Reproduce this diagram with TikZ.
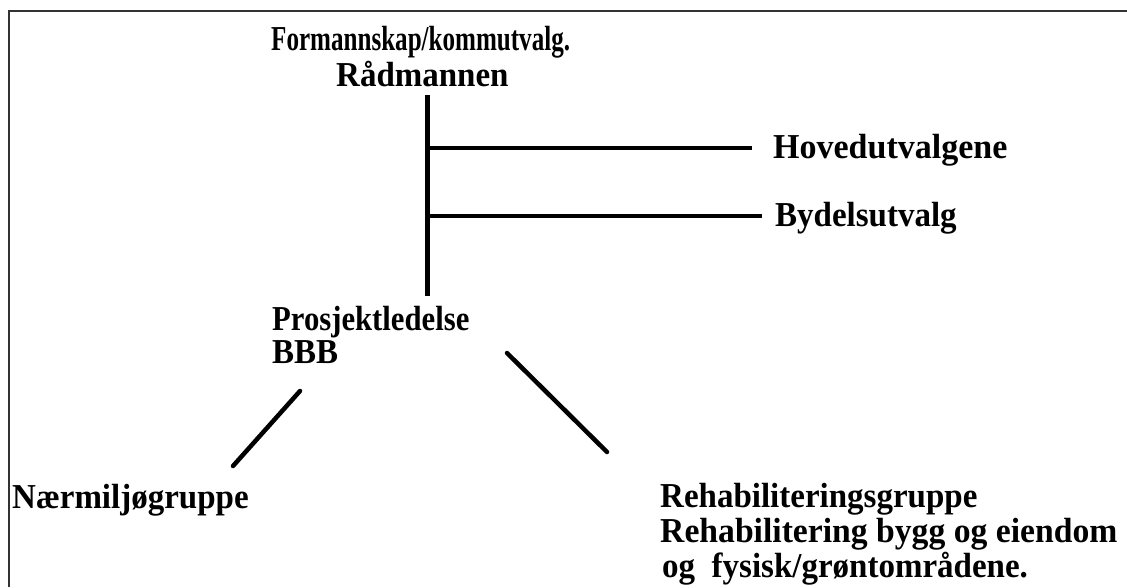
\documentclass[tikz,border=0pt]{standalone}
\usepackage{fontspec}
\setmainfont{Liberation Serif}
\newcommand{\tallt}[2][1]{\scalebox{#1}[1.06]{#2}}
\begin{document}
\begin{tikzpicture}[x=1pt,y=-1pt,
  lbl/.style={inner sep=0pt,anchor=base west,font=\fontsize{33}{35}\selectfont\bfseries},
  thick line/.style={line width=4.5pt,black},
  frame/.style={line width=2.5pt,black!80}]
\useasboundingbox (0,0) rectangle (1127,587);
\draw[frame] (9,587) -- (9,11) -- (1127,11);
% labels
\node[lbl] (form) at (271,50) {\tallt[0.76]{Formannskap/kommutvalg.}};
\node[lbl] (rad) at (336,86) {\tallt{Rådmannen}};
\node[lbl] (hov) at (773,158) {\tallt[1.03]{Hovedutvalgene}};
\node[lbl] (byd) at (775,226) {\tallt{Bydelsutvalg}};
\node[lbl] (pro) at (272,330) {\tallt[0.93]{Prosjektledelse}};
\node[lbl] (bbb) at (272,363) {\tallt{BBB}};
\node[lbl] (naer) at (12,508) {\tallt{Nærmiljøgruppe}};
\node[lbl] (reh1) at (660,507) {\tallt{Rehabiliteringsgruppe}};
\node[lbl] (reh2) at (660,542) {\tallt[1.02]{Rehabilitering bygg og eiendom}};
\node[lbl] (reh3) at (662,577) {\tallt{og~ fysisk/grøntområdene.}};
% connector end points
\coordinate (vtop) at (427,95);
\coordinate (vbot) at (427,296);
\coordinate (h1) at (427,148);
\coordinate (h1e) at (752,148);
\coordinate (h2) at (427,216);
\coordinate (h2e) at (762,216);
\coordinate (l1) at (300,391);
\coordinate (l2) at (233,466);
\coordinate (r1) at (507,353);
\coordinate (r2) at (607,452);
\draw[thick line,line width=5pt] (vtop) -- (vbot);
\draw[thick line] (h1) -- (h1e);
\draw[thick line] (h2) -- (h2e);
\draw[thick line,line cap=round] (l1) -- (l2);
\draw[thick line,line cap=round] (r1) -- (r2);
\end{tikzpicture}
\end{document}
